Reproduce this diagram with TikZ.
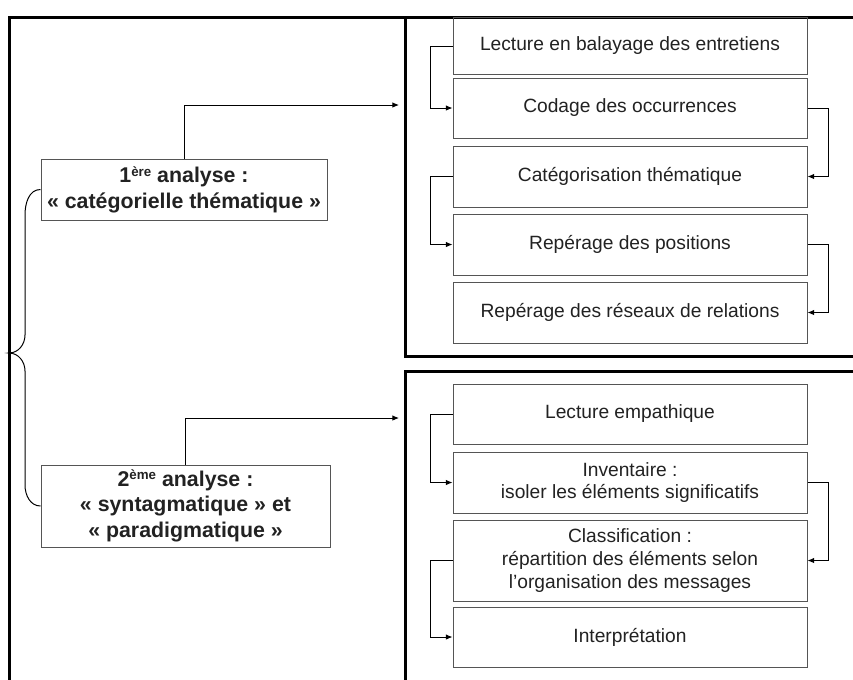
\documentclass[tikz,border=0pt]{standalone}
\usepackage{fontspec}
\setmainfont{Liberation Sans}
\usetikzlibrary{arrows.meta, positioning, calc}
\definecolor{txt}{HTML}{222222}
\definecolor{bord}{HTML}{555555}
\newcommand{\expo}[1]{\raisebox{0.55ex}{\fontsize{10}{10}\selectfont #1}}

\begin{document}
\begin{tikzpicture}[x=0.75pt, y=-0.75pt,
	frame/.style={line width=2.25pt, draw=black},
	etape/.style={draw=bord, line width=0.75pt, minimum width=354*0.75pt, align=center, text=txt,
		inner sep=0pt, font=\fontsize{14.4}{17}\selectfont},
	analyse/.style={draw=bord, line width=0.75pt, align=center, text=txt, inner sep=0pt,
		font=\bfseries\fontsize{16}{19.3}\selectfont},
	conn/.style={line width=0.75pt, -{Latex[length=5pt, width=4.2pt]}}]
		\clip (0, 0) rectangle (853, 679);
		\fill[white] (0, 0) rectangle (853, 679);
	
		\draw[frame] (9, 700) -- (9, 17) -- (870, 17);
		\draw[frame] (870, 17) -- (405, 17) -- (405, 356) -- (870, 356);
		\draw[frame] (870, 371) -- (405, 371) -- (405, 700);
		
		\node[etape, minimum height=57*0.75pt] (T1) at (630, 46) {Lecture en balayage des entretiens};
		\node[etape, minimum height=60*0.75pt] (T2) at (630, 108) {Codage des occurrences};
		\node[etape, minimum height=61*0.75pt] (T3) at (630, 176.5) {Catégorisation thématique};
		\node[etape, minimum height=61*0.75pt] (T4) at (630, 244.5) {Repérage des positions};
		\node[etape, minimum height=61*0.75pt] (T5) at (630, 312.5) {Repérage des réseaux de relations};
		
		\draw[conn] (T1.west) -- ++(-22, 0) |- (T2.west);
		\draw[conn] (T2.east) -- ++(21, 0) |- (T3.east);
		\draw[conn] (T3.west) -- ++(-22, 0) |- (T4.west);
		\draw[conn] (T4.east) -- ++(21, 0) |- (T5.east);
		
		\node[etape, minimum height=60*0.75pt] (U1) at (630, 414) {Lecture empathique};
		\node[etape, minimum height=61*0.75pt] (U2) at (630, 482.5) {Inventaire :\\isoler les éléments significatifs};
		\node[etape, minimum height=81*0.75pt] (U3) at (630, 560.5) {Classification :\\répartition des éléments selon\\l’organisation des messages};
		\node[etape, minimum height=60*0.75pt] (U4) at (630, 637) {Interprétation};
		
		\draw[conn] (U1.west) -- ++(-22, 0) |- (U2.west);
		\draw[conn] (U2.east) -- ++(21, 0) |- (U3.east);
		\draw[conn] (U3.west) -- ++(-22, 0) |- (U4.west);
		
		\node[analyse, minimum width=286*0.75pt, minimum height=61*0.75pt] (A) at (184, 189.5)
			{1\expo{ère} analyse :\\« catégorielle thématique »};
		\node[analyse, minimum width=289*0.75pt, minimum height=82*0.75pt] (B) at (185.5, 506)
			{2\expo{ème} analyse :\\« syntagmatique » et\\« paradigmatique »};
		
		\coordinate (pA) at (399, 105);
		\coordinate (pB) at (399, 418);
		\draw[conn] (A.north) |- (pA);
		\draw[conn] (B.north) |- (pB);
		
		\draw[line width=0.75pt] (A.west) to[out=180, in=90] (25, 215) -- (25, 335)
			to[out=-90, in=0] (9, 353) to[out=0, in=90] (25, 371) -- (25, 485)
			to[out=-90, in=180] (B.west);
	
	\end{tikzpicture}
\end{document}
